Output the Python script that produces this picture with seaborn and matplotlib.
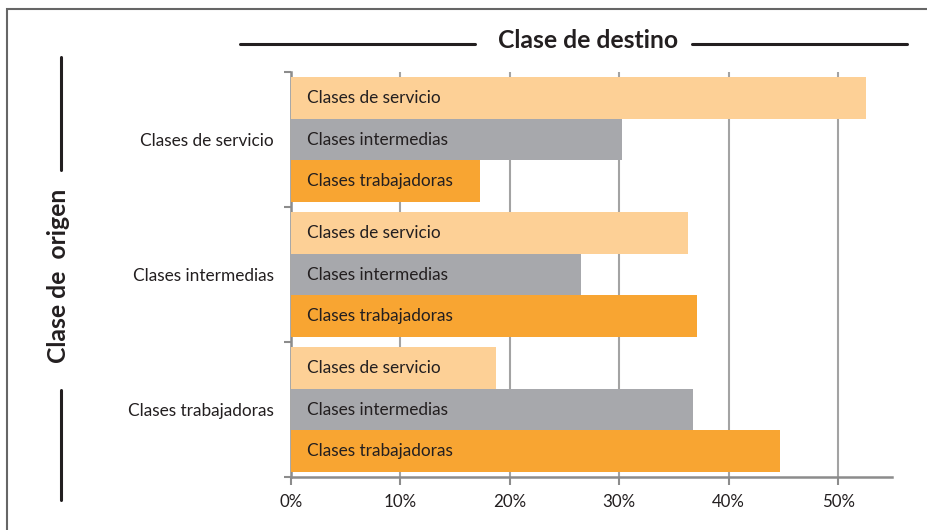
import pandas as pd
import numpy as np
import matplotlib.pyplot as plt
import seaborn as sns
from matplotlib.lines import Line2D
from matplotlib.patches import Rectangle

origen = ["Clases de servicio", "Clases intermedias", "Clases trabajadoras"]
destino = ["Clases de servicio", "Clases intermedias", "Clases trabajadoras"]
# porcentaje por destino, una lista por clase de origen
servicio = [52.5, 30.2, 17.3]
intermedias = [36.3, 26.5, 37.1]
trabajadoras = [18.7, 36.7, 44.7]
colores = ["#FDD096", "#A7A8AC", "#F8A532"]

rows = []
for o, vals in zip(origen, [servicio, intermedias, trabajadoras]):
    for d, v in zip(destino, vals):
        rows.append({"origen": o, "destino": d, "valor": v})
df = pd.DataFrame(rows)

sns.set_style("white")
plt.rcParams['font.family'] = ['Lato', 'DejaVu Sans']

fig = plt.figure(figsize=(9.27, 5.30), dpi=100)
ax = fig.add_axes([0.314, 0.10, 0.648, 0.764])

sns.barplot(data=df, y="origen", x="valor", hue="destino", order=origen,
            hue_order=destino, palette=colores, width=0.92, saturation=1,
            orient="h", legend=False, ax=ax, zorder=3, linewidth=0)

for cont, name in zip(ax.containers, destino):
    for bar in cont:
        ax.text(1.45, bar.get_y() + bar.get_height() / 2, name,
                va="center", ha="left", fontsize=12.4, color="#231F20", zorder=4)

ax.set_xlim(0, 54.9)
ax.set_ylim(2.5, -0.5)
ax.set_xticks([0, 10, 20, 30, 40, 50])
ax.set_xticklabels([f"{t}%" for t in [0, 10, 20, 30, 40, 50]])
ax.set_yticks([0, 1, 2])
ax.set_yticks([-0.5, 0.5, 1.5, 2.5], minor=True)
ax.tick_params(axis="y", which="major", length=0, pad=12.5, labelsize=12.4, labelcolor="#231F20")
ax.tick_params(axis="y", which="minor", length=5, width=1.5, color="#8C8C8C", direction="out", left=True)
ax.tick_params(axis="x", length=6, width=1.5, color="#8C8C8C", direction="out", bottom=True,
               labelsize=12.2, labelcolor="#231F20", pad=6)
ax.set_xlabel("")
ax.set_ylabel("")
ax.xaxis.grid(True, color="#A3A3A3", lw=1.5, zorder=0)
ax.set_axisbelow(True)
for s in ["top", "right"]:
    ax.spines[s].set_visible(False)
for s in ["left", "bottom"]:
    ax.spines[s].set_color("#8C8C8C")
    ax.spines[s].set_linewidth(1.8)

# marco
fig.add_artist(Rectangle((7 / 927, -0.1), 1.2, 1 - 9 / 530 + 0.1, transform=fig.transFigure,
                         fill=False, ec="#666666", lw=1.5, clip_on=False))

# titulo superior con lineas
fig.text(588 / 927, 1 - 41 / 530, "Clase de destino", ha="center", va="center",
         fontsize=17.8, fontweight="bold", color="#231F20")
yl = 1 - 44 / 530
fig.add_artist(Line2D([240 / 927, 475 / 927], [yl, yl], color="#231F20", lw=2.2))
fig.add_artist(Line2D([692 / 927, 907 / 927], [yl, yl], color="#231F20", lw=2.2))

# etiqueta vertical con lineas
fig.text(59 / 927, 1 - 276 / 530, "Clase de  origen", ha="center", va="center",
         rotation=90, fontsize=17.8, fontweight="bold", color="#231F20")
xl = 61 / 927
fig.add_artist(Line2D([xl, xl], [1 - 57 / 530, 1 - 170 / 530], color="#231F20", lw=2.2))
fig.add_artist(Line2D([xl, xl], [1 - 390 / 530, 1 - 500 / 530], color="#231F20", lw=2.2))

fig.savefig("out.png", dpi=100)
